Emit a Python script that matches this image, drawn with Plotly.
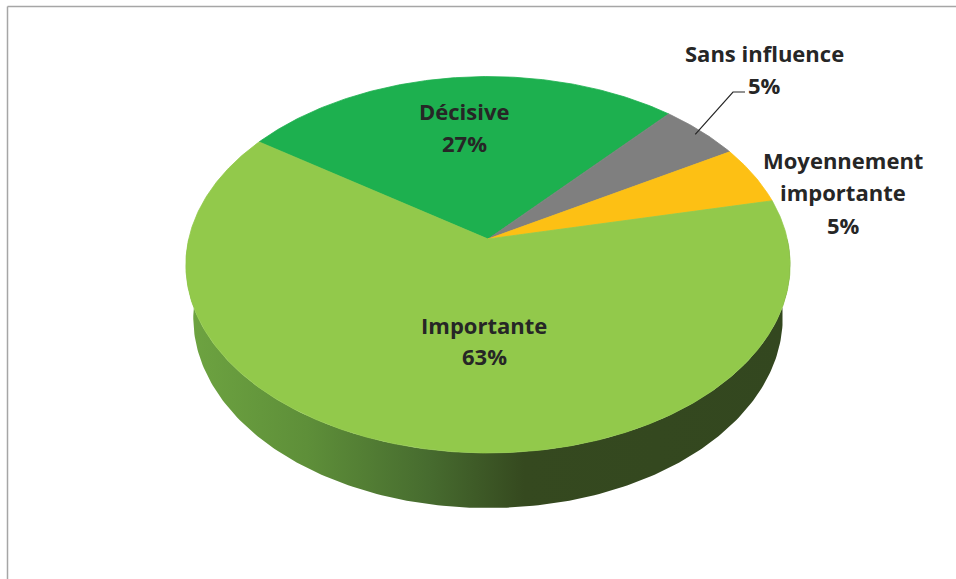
import numpy as np
import plotly.graph_objects as go

# ---------------- data ----------------
categories = ["Décisive", "Sans influence", "Moyennement importante", "Importante"]
values = [27, 5, 5, 63]
percent_labels = ["27%", "5%", "5%", "63%"]

# ---------------- styles ----------------
slice_colors = ["#1db04f", "#7f7f7f", "#fdc014", "#92c94b"]
side_scale = [[0.0, "#6ea441"], [0.2, "#5e8f39"], [0.4, "#476c2f"],
              [0.56, "#35491f"], [1.0, "#33471f"]]
TEXT = "#262626"
FONT = "Open Sans"
W, Hpx = 956, 579

# ---------------- 3D pie projection ----------------
CX, CY = 488, 239           # projected pie centre
PHI = np.radians(38.1)       # elevation
S, C = np.sin(PHI), np.cos(PHI)
DIST = 5.75                  # camera distance (in radii)
FOC = 1721                   # focal length (px)
DEPTH = 0.23                 # pie thickness (in radii)
START = 145.5                # first slice angle (deg, counter-clockwise from 3 o'clock)


def proj(X, Z, Y=0.0):
    d = DIST + Z * C - Y * S
    return CX + FOC * X / d, CY - FOC * (Z * S + Y * C) / d


fig = go.Figure()

# side wall (front half)
th = np.radians(np.linspace(180, 360, 200))
tx, ty = proj(np.cos(th), np.sin(th), 0.0)
bx, by = proj(np.cos(th), np.sin(th), -DEPTH)
sx = np.concatenate([tx, bx[::-1], tx[:1]])
sy = np.concatenate([ty, by[::-1], ty[:1]])
fig.add_trace(go.Scatter(
    x=sx, y=sy, mode="lines", fill="toself",
    line=dict(width=0, color="rgba(0,0,0,0)"),
    fillgradient=dict(type="horizontal", colorscale=side_scale),
    hoverinfo="skip", showlegend=False))

# top face slices
angle = START
mids = []
for cat, val, col in zip(categories, values, slice_colors):
    a0 = angle
    a1 = angle - 360.0 * val / sum(values)
    n = max(4, int(abs(a1 - a0) * 2))
    t = np.radians(np.linspace(a0, a1, n))
    rx, ry = proj(np.cos(t), np.sin(t))
    px = np.concatenate([[CX], rx, [CX]])
    py = np.concatenate([[CY], ry, [CY]])
    fig.add_trace(go.Scatter(
        x=px, y=py, mode="lines", fill="toself", fillcolor=col,
        line=dict(width=0.8, color=col),
        hoverinfo="skip", showlegend=False, name=cat))
    mids.append((a0 + a1) / 2)
    angle = a1

# leader line for "Sans influence"
ma = np.radians(mids[1])
lx0, ly0 = proj(0.97 * np.cos(ma), 0.97 * np.sin(ma))
fig.add_trace(go.Scatter(
    x=[lx0, 733, 745], y=[ly0, 92, 92], mode="lines",
    line=dict(color=TEXT, width=1.2), hoverinfo="skip", showlegend=False))

# ---------------- labels ----------------
label_lines = [
    (["Décisive", percent_labels[0]], 464, [111, 143]),
    (["Sans influence", percent_labels[1]], 764, [53, 85]),
    (["Moyennement", "importante", percent_labels[2]], 843, [160, 192, 225]),
    (["Importante", percent_labels[3]], 484, [325, 356]),
]
for lines, x, ys in label_lines:
    for txt, y in zip(lines, ys):
        fig.add_annotation(x=x, y=y, text=txt, showarrow=False,
                           xanchor="center", yanchor="middle",
                           font=dict(family=FONT, size=22, color=TEXT, weight="bold"))

# chart frame (only top/left edges visible)
fig.add_shape(type="line", xref="paper", yref="paper",
              x0=7.5 / W, x1=1.05, y0=1 - 6.5 / Hpx, y1=1 - 6.5 / Hpx,
              line=dict(color="#a6a6a6", width=1.5))
fig.add_shape(type="line", xref="paper", yref="paper",
              x0=7.5 / W, x1=7.5 / W, y0=1 - 6.5 / Hpx, y1=-0.05,
              line=dict(color="#a6a6a6", width=1.5))

fig.update_layout(
    width=W, height=Hpx,
    margin=dict(l=0, r=0, t=0, b=0),
    paper_bgcolor="white", plot_bgcolor="white",
    xaxis=dict(range=[0, W], visible=False, fixedrange=True),
    yaxis=dict(range=[Hpx, 0], visible=False, fixedrange=True),
    hovermode=False,
    showlegend=False,
)

fig.write_html("out.html",
               config={"displayModeBar": False, "staticPlot": True},
               post_script="document.body.style.margin='0';document.body.style.overflow='hidden';")
